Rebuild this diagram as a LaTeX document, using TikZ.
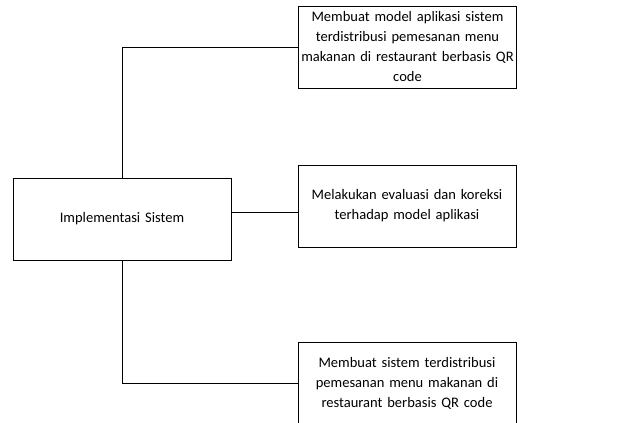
\documentclass[tikz,border=0pt]{standalone}
\usepackage{fontspec}
\setmainfont{Carlito}
\usetikzlibrary{positioning}

\begin{document}
\begin{tikzpicture}[x=0.75pt, y=-0.75pt,
    kotak/.style={draw, line width=0.6pt, text width=159.5pt, minimum height=61.5pt, align=center, inner sep=2pt, font=\fontsize{10.9}{15}\selectfont},
    garis/.style={line width=0.6pt}]
    \useasboundingbox (0,0) rectangle (628,423);

    \node[kotak] (impl) at (122,219) {Implementasi Sistem};
    \node[kotak] (model) at (407.5,47) {Membuat model aplikasi sistem\\terdistribusi pemesanan menu\\makanan di restaurant berbasis QR\\code};
    \node[kotak] (evaluasi) at (407,206) {Melakukan evaluasi dan koreksi\\terhadap model aplikasi};
    \node[kotak] (sistem) at (407,383) {Membuat sistem terdistribusi\\pemesanan menu makanan di\\restaurant berbasis QR code};

    \coordinate (j) at ([yshift=5.25pt]impl.east);

    \draw[garis] (impl.north) |- (model.west);
    \draw[garis] (j) -- (j -| evaluasi.west);
    \draw[garis] (impl.south) |- (sistem.west);
\end{tikzpicture}
\end{document}
